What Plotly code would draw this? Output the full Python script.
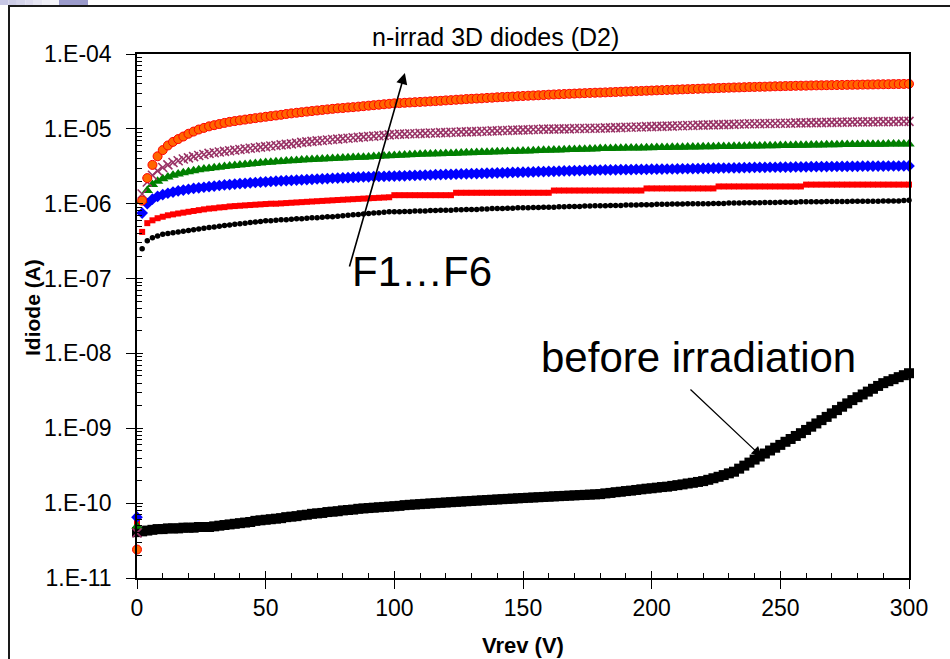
import plotly.graph_objects as go

# ---------------- data ----------------
volts = list(range(0, 301, 2))

# F6 (orange circles), current in uA
f6_uA = [0.000024, 1.1, 2.2, 3.3, 4.3, 5.2, 6.0, 6.7, 7.3, 7.9,
         8.6, 9.2, 9.8, 10.3, 10.8, 11.2, 11.6, 12.0, 12.4, 12.7,
         13.0, 13.3, 13.6, 13.9, 14.2, 14.5, 14.8, 15.1, 15.4, 15.8,
         16.1, 16.4, 16.7, 17.0, 17.3, 17.6, 17.9, 18.2, 18.5, 18.8,
         19.0, 19.3, 19.5, 19.8, 20.1, 20.4, 20.7, 21.0, 21.3, 21.6,
         21.9, 22.1, 22.3, 22.5, 22.7, 22.9, 23.1, 23.3, 23.5, 23.7,
         24.0, 24.2, 24.5, 24.7, 25.0, 25.2, 25.4, 25.6, 25.9, 26.1,
         26.4, 26.6, 26.8, 27.0, 27.3, 27.5, 27.7, 27.9, 28.1, 28.3,
         28.6, 28.8, 29.0, 29.2, 29.4, 29.6, 29.8, 30.0, 30.2, 30.4,
         30.5, 30.7, 30.9, 31.1, 31.3, 31.5, 31.7, 31.9, 32.1, 32.3,
         32.5, 32.7, 32.9, 33.1, 33.3, 33.5, 33.7, 33.9, 34.1, 34.3,
         34.5, 34.7, 34.9, 35.1, 35.3, 35.5, 35.7, 35.8, 36.0, 36.2,
         36.3, 36.5, 36.6, 36.8, 37.0, 37.1, 37.3, 37.4, 37.6, 37.7,
         37.8, 38.0, 38.1, 38.2, 38.3, 38.4, 38.5, 38.6, 38.7, 38.8,
         38.9, 39.0, 39.1, 39.2, 39.3, 39.4, 39.5, 39.6, 39.7, 39.8,
         39.9]

# F5 (purple crosses), uA
f5_uA = [0.00004, 1.35, 1.95, 2.4, 2.75, 3.05, 3.3, 3.55, 3.75, 3.95,
         4.1, 4.25, 4.4, 4.55, 4.7, 4.8, 4.9, 5.0, 5.1, 5.2,
         5.3, 5.4, 5.5, 5.6, 5.7, 5.8, 5.9, 6.0, 6.1, 6.2,
         6.3, 6.45, 6.6, 6.7, 6.8, 6.9, 7.0, 7.1, 7.2, 7.3,
         7.4, 7.5, 7.6, 7.7, 7.8, 7.9, 8.0, 8.1, 8.2, 8.3,
         8.4, 8.5, 8.5, 8.6, 8.6, 8.7, 8.7, 8.8, 8.8, 8.9,
         8.9, 9.0, 9.0, 9.1, 9.1, 9.2, 9.2, 9.3, 9.3, 9.4,
         9.4, 9.5, 9.5, 9.6, 9.6, 9.7, 9.7, 9.8, 9.8, 9.9,
         9.9, 9.9, 10.0, 10.0, 10.0, 10.1, 10.1, 10.1, 10.2, 10.2,
         10.2, 10.3, 10.3, 10.4, 10.4, 10.5, 10.5, 10.6, 10.6, 10.7,
         10.7, 10.8, 10.8, 10.9, 10.9, 11.0, 11.0, 11.1, 11.1, 11.2,
         11.2, 11.3, 11.3, 11.4, 11.4, 11.5, 11.5, 11.6, 11.6, 11.7,
         11.7, 11.7, 11.8, 11.8, 11.8, 11.9, 11.9, 11.9, 12.0, 12.0,
         12.0, 12.1, 12.1, 12.1, 12.2, 12.2, 12.2, 12.3, 12.3, 12.3,
         12.4, 12.4, 12.4, 12.4, 12.5, 12.5, 12.5, 12.5, 12.6, 12.6,
         12.6]

# F4 (green triangles), uA
f4_uA = [0.000049, 1.1, 1.5, 1.8, 2.0, 2.15, 2.28, 2.4, 2.5, 2.6,
         2.68, 2.76, 2.84, 2.9, 2.96, 3.02, 3.08, 3.14, 3.2, 3.25,
         3.3, 3.35, 3.4, 3.45, 3.5, 3.55, 3.59, 3.63, 3.67, 3.71,
         3.75, 3.79, 3.83, 3.86, 3.89, 3.92, 3.95, 3.98, 4.01, 4.04,
         4.07, 4.1, 4.13, 4.16, 4.19, 4.22, 4.26, 4.3, 4.34, 4.38,
         4.42, 4.45, 4.48, 4.51, 4.54, 4.57, 4.6, 4.62, 4.64, 4.66,
         4.68, 4.7, 4.73, 4.76, 4.78, 4.8, 4.83, 4.86, 4.88, 4.9,
         4.93, 4.96, 4.98, 5.0, 5.03, 5.06, 5.08, 5.1, 5.13, 5.16,
         5.18, 5.2, 5.23, 5.26, 5.28, 5.3, 5.33, 5.36, 5.38, 5.4,
         5.45, 5.47, 5.48, 5.5, 5.51, 5.53, 5.54, 5.56, 5.57, 5.59,
         5.6, 5.62, 5.63, 5.65, 5.66, 5.68, 5.69, 5.71, 5.72, 5.74,
         5.75, 5.77, 5.78, 5.8, 5.81, 5.83, 5.84, 5.86, 5.87, 5.89,
         5.9, 5.92, 5.93, 5.95, 5.96, 5.98, 5.99, 6.01, 6.02, 6.04,
         6.05, 6.07, 6.08, 6.1, 6.11, 6.13, 6.14, 6.16, 6.17, 6.19,
         6.2, 6.21, 6.22, 6.23, 6.24, 6.25, 6.26, 6.27, 6.28, 6.29,
         6.3]

# F3 (blue diamonds), uA
f3_uA = [0.000065, 0.75, 1.0, 1.15, 1.25, 1.32, 1.38, 1.43, 1.48, 1.52,
         1.56, 1.6, 1.63, 1.66, 1.69, 1.72, 1.75, 1.78, 1.8, 1.83,
         1.85, 1.87, 1.9, 1.92, 1.94, 1.96, 1.98, 2.0, 2.02, 2.04,
         2.05, 2.07, 2.08, 2.1, 2.12, 2.14, 2.15, 2.17, 2.19, 2.2,
         2.22, 2.23, 2.25, 2.26, 2.28, 2.29, 2.3, 2.31, 2.32, 2.33,
         2.34, 2.35, 2.36, 2.38, 2.39, 2.4, 2.41, 2.42, 2.44, 2.45,
         2.46, 2.47, 2.48, 2.5, 2.51, 2.52, 2.53, 2.54, 2.56, 2.57,
         2.58, 2.59, 2.6, 2.62, 2.63, 2.64, 2.65, 2.66, 2.68, 2.69,
         2.7, 2.71, 2.72, 2.74, 2.75, 2.76, 2.77, 2.78, 2.8, 2.81,
         2.82, 2.83, 2.83, 2.84, 2.85, 2.85, 2.86, 2.87, 2.87, 2.88,
         2.89, 2.89, 2.9, 2.91, 2.91, 2.92, 2.93, 2.93, 2.94, 2.95,
         2.96, 2.97, 2.98, 2.99, 3.0, 3.0, 3.01, 3.02, 3.03, 3.04,
         3.05, 3.05, 3.06, 3.07, 3.07, 3.08, 3.09, 3.09, 3.1, 3.1,
         3.11, 3.12, 3.12, 3.13, 3.13, 3.14, 3.14, 3.15, 3.15, 3.16,
         3.16, 3.17, 3.17, 3.17, 3.18, 3.18, 3.19, 3.19, 3.19, 3.2,
         3.2]

# F2 (red squares), uA
f2_uA = [0.000056, 0.42, 0.55, 0.6, 0.64, 0.67, 0.7, 0.72, 0.74, 0.76,
         0.78, 0.8, 0.82, 0.84, 0.86, 0.87, 0.89, 0.9, 0.92, 0.93,
         0.94, 0.95, 0.96, 0.97, 0.98, 0.99, 1.0, 1.0, 1.01, 1.02,
         1.03, 1.04, 1.05, 1.06, 1.07, 1.08, 1.09, 1.1, 1.11, 1.12,
         1.13, 1.14, 1.15, 1.16, 1.17, 1.18, 1.19, 1.2, 1.21, 1.22,
         1.3, 1.3, 1.3, 1.3, 1.3, 1.3, 1.3, 1.3, 1.3, 1.3,
         1.3, 1.3, 1.4, 1.4, 1.4, 1.4, 1.4, 1.4, 1.4, 1.4,
         1.4, 1.4, 1.4, 1.4, 1.4, 1.4, 1.4, 1.4, 1.4, 1.4,
         1.4, 1.5, 1.5, 1.5, 1.5, 1.5, 1.5, 1.5, 1.5, 1.5,
         1.5, 1.5, 1.5, 1.5, 1.5, 1.5, 1.5, 1.5, 1.5, 1.6,
         1.6, 1.6, 1.6, 1.6, 1.6, 1.6, 1.6, 1.6, 1.6, 1.6,
         1.6, 1.6, 1.6, 1.7, 1.7, 1.7, 1.7, 1.7, 1.7, 1.7,
         1.7, 1.7, 1.7, 1.7, 1.7, 1.7, 1.7, 1.7, 1.7, 1.7,
         1.8, 1.8, 1.8, 1.8, 1.8, 1.8, 1.8, 1.8, 1.8, 1.8,
         1.8, 1.8, 1.8, 1.8, 1.8, 1.8, 1.8, 1.8, 1.8, 1.8,
         1.8]

# F1 (black dots), uA
f1_uA = [0.00005, 0.25, 0.32, 0.35, 0.37, 0.39, 0.40, 0.41, 0.42, 0.43,
         0.44, 0.45, 0.46, 0.47, 0.48, 0.49, 0.50, 0.51, 0.52, 0.53,
         0.54, 0.55, 0.56, 0.57, 0.58, 0.59, 0.59, 0.60, 0.61, 0.61,
         0.62, 0.63, 0.63, 0.64, 0.65, 0.65, 0.66, 0.67, 0.67, 0.68,
         0.69, 0.70, 0.71, 0.72, 0.73, 0.74, 0.75, 0.76, 0.77, 0.78,
         0.78, 0.78, 0.79, 0.79, 0.80, 0.80, 0.80, 0.81, 0.81, 0.82,
         0.82, 0.82, 0.83, 0.83, 0.84, 0.84, 0.84, 0.85, 0.85, 0.86,
         0.86, 0.86, 0.87, 0.87, 0.88, 0.88, 0.88, 0.89, 0.89, 0.90,
         0.90, 0.90, 0.91, 0.91, 0.92, 0.92, 0.92, 0.93, 0.93, 0.94,
         0.94, 0.94, 0.95, 0.95, 0.95, 0.96, 0.96, 0.96, 0.97, 0.97,
         0.97, 0.98, 0.98, 0.98, 0.99, 0.99, 0.99, 1.00, 1.00, 1.00,
         1.00, 1.00, 1.01, 1.01, 1.01, 1.02, 1.02, 1.02, 1.03, 1.03,
         1.03, 1.03, 1.04, 1.04, 1.04, 1.05, 1.05, 1.05, 1.05, 1.06,
         1.06, 1.06, 1.06, 1.06, 1.07, 1.07, 1.07, 1.07, 1.07, 1.08,
         1.08, 1.08, 1.08, 1.08, 1.08, 1.09, 1.09, 1.09, 1.09, 1.10,
         1.11]

# before irradiation (black squares), in units of 1e-10 A
before_e10 = [0.41, 0.42, 0.43, 0.44, 0.45, 0.45, 0.46, 0.46, 0.46, 0.47,
              0.47, 0.47, 0.48, 0.48, 0.48, 0.49, 0.50, 0.51, 0.52, 0.53,
              0.54, 0.55, 0.56, 0.58, 0.59, 0.60, 0.61, 0.62, 0.63, 0.65,
              0.66, 0.67, 0.69, 0.70, 0.72, 0.73, 0.74, 0.76, 0.77, 0.78,
              0.80, 0.81, 0.82, 0.84, 0.85, 0.86, 0.87, 0.88, 0.89, 0.90,
              0.91, 0.92, 0.94, 0.95, 0.96, 0.97, 0.98, 0.99, 1.00, 1.01,
              1.02, 1.03, 1.04, 1.05, 1.06, 1.07, 1.08, 1.09, 1.10, 1.11,
              1.12, 1.13, 1.14, 1.15, 1.16, 1.17, 1.18, 1.19, 1.20, 1.21,
              1.22, 1.23, 1.24, 1.25, 1.26, 1.27, 1.28, 1.29, 1.30, 1.31,
              1.32, 1.35, 1.37, 1.40, 1.42, 1.45, 1.47, 1.50, 1.53, 1.56,
              1.58, 1.61, 1.64, 1.66, 1.70, 1.74, 1.78, 1.83, 1.87, 1.92,
              1.97, 2.05, 2.15, 2.25, 2.37, 2.50, 2.63, 2.89, 3.17, 3.48,
              3.82, 4.2, 4.6, 5.05, 5.5, 6.0, 6.6, 7.2, 7.9, 8.6,
              9.5, 10.5, 11.6, 12.85, 14.2, 15.8, 17.5, 19.4, 21.5, 23.8,
              26.0, 28.3, 30.9, 33.7, 36.8, 40.1, 42.6, 45.3, 48.2, 51.2,
              54.4]

x_major = [0, 50, 100, 150, 200, 250, 300]
x_minor = [v for v in range(10, 300, 10) if v % 50 != 0]
y_major = [1e-11, 1e-10, 1e-9, 1e-8, 1e-7, 1e-6, 1e-5, 1e-4]
y_major_text = ["1.E-11", "1.E-10", "1.E-09", "1.E-08", "1.E-07", "1.E-06", "1.E-05", "1.E-04"]
y_minor = [m * d for d in y_major[:-1] for m in range(2, 10)]

for arr in (f6_uA, f5_uA, f4_uA, f3_uA, f2_uA, f1_uA, before_e10):
    assert len(arr) == len(volts), len(arr)

FONT = "Liberation Sans, Arial, sans-serif"

fig = go.Figure()

# before irradiation first (drawn underneath)
fig.add_trace(go.Scatter(
    x=volts, y=[v * 1e-10 for v in before_e10], mode="markers",
    marker=dict(symbol="square", size=10, color="#000000", line=dict(width=0)),
    cliponaxis=False, showlegend=False, name="before irradiation"))

styles = [
    ("F1", f1_uA, dict(symbol="circle", size=5.5, color="#000000", line=dict(width=0))),
    ("F2", f2_uA, dict(symbol="square", size=6, color="#FF0000", line=dict(width=0))),
    ("F3", f3_uA, dict(symbol="diamond", size=9, color="#0000FF", line=dict(width=0))),
    ("F4", f4_uA, dict(symbol="triangle-up", size=10, color="#008000", line=dict(width=0))),
    ("F5", f5_uA, dict(symbol="x-thin", size=9, color="#993366", line=dict(width=1.6, color="#993366"))),
    ("F6", f6_uA, dict(symbol="circle", size=9, color="#FF6600", line=dict(width=1, color="#FF0000"))),
]
for name, vals, mk in styles:
    fig.add_trace(go.Scatter(
        x=volts, y=[v * 1e-6 for v in vals], mode="markers", marker=mk,
        cliponaxis=False, showlegend=False, name=name))

axis_common = dict(showgrid=False, zeroline=False, tickcolor="black", tickwidth=1)

fig.update_layout(
    width=950, height=659,
    margin=dict(l=137, r=41, t=54, b=81),
    paper_bgcolor="white", plot_bgcolor="white",
    font=dict(family=FONT, color="black"),
    xaxis=dict(range=[0, 300], tickvals=x_major, ticks="outside", ticklen=9,
               showline=True, linecolor="black", linewidth=1.5, mirror=True,
               tickfont=dict(size=23, family=FONT), ticklabelstandoff=0, **axis_common),
    yaxis=dict(type="log", range=[-11, -4], tickvals=y_major, ticktext=y_major_text,
               ticks="outside", ticklen=9, showline=True, linecolor="black",
               linewidth=1.5, mirror=True, tickfont=dict(size=23, family=FONT),
               ticklabelstandoff=10, **axis_common),
    xaxis2=dict(range=[0, 300], overlaying="x", anchor="y", side="bottom",
                tickvals=x_major, ticks="inside", ticklen=7, showticklabels=False,
                showline=False, **axis_common),
    xaxis3=dict(range=[0, 300], overlaying="x", anchor="y", side="bottom",
                tickvals=x_minor, ticks="inside", ticklen=5, showticklabels=False,
                showline=False, **axis_common),
    yaxis2=dict(type="log", range=[-11, -4], overlaying="y", anchor="x", side="left",
                tickvals=y_major, ticks="inside", ticklen=6, showticklabels=False,
                showline=False, **axis_common),
    yaxis3=dict(type="log", range=[-11, -4], overlaying="y", anchor="x", side="left",
                tickvals=y_minor, ticks="inside", ticklen=5, showticklabels=False,
                showline=False, **axis_common),
)

# dummy invisible traces so overlay axes are drawn
fig.add_trace(go.Scatter(x=[None], y=[None], xaxis="x2", yaxis="y2", showlegend=False, hoverinfo="skip"))
fig.add_trace(go.Scatter(x=[None], y=[None], xaxis="x3", yaxis="y3", showlegend=False, hoverinfo="skip"))

# pixel -> paper helpers for decorations
def px(xp):
    return (xp - 137) / 772.0

def py(yp):
    return (578 - yp) / 524.0

annotations = [
    dict(text="n-irrad 3D diodes (D2)", xref="paper", yref="paper", x=px(495), y=py(37),
         xanchor="center", yanchor="middle", showarrow=False, font=dict(size=25, family=FONT)),
    dict(text="<b>Vrev (V)</b>", xref="paper", yref="paper", x=0.5, y=py(645),
         xanchor="center", yanchor="middle", showarrow=False, font=dict(size=22, family=FONT)),
    dict(text="<b>Idiode (A)</b>", xref="paper", yref="paper", x=px(32), y=py(307),
         xanchor="center", yanchor="middle", textangle=-90, showarrow=False,
         font=dict(size=21, family=FONT)),
    dict(text="F1…F6", xref="paper", yref="paper", x=px(422), y=py(271),
         xanchor="center", yanchor="middle", showarrow=False, font=dict(size=42, family=FONT)),
    dict(text="before irradiation", xref="paper", yref="paper", x=px(698), y=py(357),
         xanchor="center", yanchor="middle", showarrow=False, font=dict(size=42, family=FONT)),
    dict(text="", x=104.1, y=-4.254, xref="x", yref="y", ax=82.4, ay=-6.859,
         axref="x", ayref="y", showarrow=True, arrowhead=2, arrowsize=1.4,
         arrowwidth=1.6, arrowcolor="black"),
    dict(text="", x=242.9, y=-9.383, xref="x", yref="y", ax=214.5, ay=-8.462,
         axref="x", ayref="y", showarrow=True, arrowhead=2, arrowsize=1.6,
         arrowwidth=1.3, arrowcolor="black"),
]
fig.update_layout(annotations=annotations)

shapes = [
    dict(type="rect", xref="paper", yref="paper", x0=px(9), x1=px(1000), y0=py(720), y1=py(6),
         line=dict(color="#1a1a1a", width=2), fillcolor="rgba(0,0,0,0)", layer="above"),
]
grad = ["#c6c6e4", "#cdcde7", "#d5d5eb", "#dddcef", "#e6e6f3", "#efeff7", "#f6f6fb"]
seg = 59 / len(grad)
for i, c in enumerate(grad):
    shapes.append(dict(type="rect", xref="paper", yref="paper", x0=px(i * seg), x1=px((i + 1) * seg),
                       y0=py(5), y1=py(0), line=dict(width=0), fillcolor=c, layer="above"))
shapes.append(dict(type="rect", xref="paper", yref="paper", x0=px(59), x1=px(88), y0=py(5), y1=py(0),
                   line=dict(width=0), fillcolor="#9b9bcb", layer="above"))
fig.update_layout(shapes=shapes)

fig.write_html("out.html")
